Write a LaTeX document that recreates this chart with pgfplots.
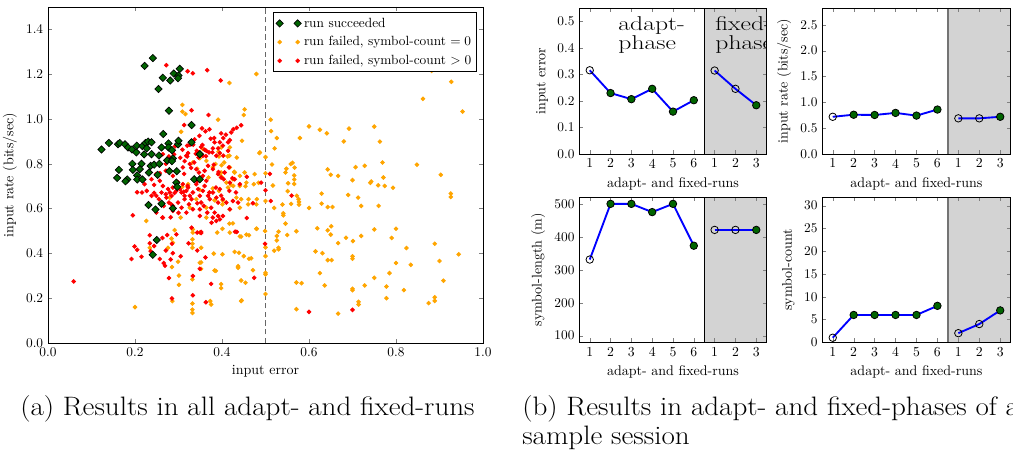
\documentclass[border=0pt]{standalone}
\usepackage{graphicx}
\usepackage{pgfplots}
\usepackage{pgfplotstable}
\pgfplotsset{compat=1.18}
\definecolor{mplgreen}{RGB}{0,100,0}
\definecolor{mplorange}{RGB}{255,165,0}
\definecolor{mplred}{RGB}{255,0,0}
\definecolor{mplgray}{RGB}{211,211,211}
\definecolor{mplblue}{RGB}{0,0,255}

\pgfplotstableread{
x y
0.123 0.864
0.140 0.893
0.161 0.887
0.165 0.893
0.177 0.887
0.184 0.873
0.193 0.864
0.203 0.851
0.204 0.881
0.217 0.879
0.224 0.893
0.230 0.899
0.238 0.896
0.227 0.869
0.221 0.842
0.238 0.843
0.255 0.837
0.265 0.933
0.261 0.873
0.277 0.891
0.277 0.873
0.287 0.824
0.274 0.815
0.299 0.887
0.300 0.903
0.330 0.896
0.349 0.843
0.330 0.973
0.278 1.037
0.254 1.134
0.264 1.184
0.281 1.172
0.289 1.203
0.300 1.194
0.299 1.182
0.303 1.224
0.222 1.237
0.241 1.272
0.194 0.800
0.215 0.800
0.163 0.773
0.195 0.773
0.211 0.776
0.236 0.791
0.244 0.796
0.256 0.800
0.205 0.748
0.205 0.730
0.182 0.730
0.159 0.737
0.178 0.722
0.217 0.730
0.232 0.761
0.252 0.751
0.279 0.767
0.285 0.812
0.296 0.767
0.295 0.716
0.297 0.697
0.336 0.731
0.349 0.731
0.231 0.616
0.247 0.596
0.261 0.622
0.287 0.601
0.250 0.460
0.241 0.394
0.285 0.861
}\greendata

\pgfplotstableread{
x y
0.882 1.215
0.927 1.166
0.862 1.090
0.953 1.033
0.512 0.997
0.513 0.946
0.526 0.915
0.600 0.967
0.625 0.952
0.641 0.936
0.692 0.957
0.750 0.966
0.763 0.899
0.680 0.900
0.579 0.915
0.521 0.869
0.500 0.830
0.515 0.797
0.562 0.804
0.558 0.799
0.548 0.778
0.567 0.783
0.546 0.761
0.566 0.748
0.566 0.730
0.566 0.710
0.552 0.713
0.517 0.703
0.500 0.758
0.643 0.775
0.650 0.751
0.667 0.746
0.707 0.785
0.728 0.791
0.769 0.806
0.848 0.796
0.700 0.727
0.743 0.721
0.741 0.715
0.759 0.704
0.774 0.701
0.771 0.739
0.793 0.693
0.903 0.751
0.629 0.667
0.690 0.661
0.713 0.649
0.551 0.678
0.572 0.657
0.926 0.667
0.926 0.652
0.487 0.851
0.500 0.634
0.520 0.603
0.539 0.618
0.541 0.579
0.541 0.570
0.559 0.621
0.576 0.642
0.577 0.630
0.577 0.618
0.600 0.603
0.629 0.622
0.643 0.607
0.654 0.607
0.720 0.612
0.760 0.612
0.546 0.533
0.571 0.499
0.499 0.500
0.530 0.497
0.526 0.478
0.526 0.458
0.550 0.482
0.619 0.512
0.643 0.503
0.651 0.521
0.650 0.484
0.685 0.470
0.720 0.478
0.701 0.455
0.750 0.507
0.800 0.510
0.790 0.469
0.667 0.446
0.500 0.427
0.520 0.412
0.530 0.418
0.530 0.425
0.500 0.388
0.615 0.409
0.631 0.401
0.643 0.370
0.652 0.370
0.700 0.387
0.700 0.376
0.800 0.357
0.824 0.424
0.889 0.443
0.944 0.396
0.900 0.366
0.834 0.349
0.500 0.313
0.500 0.306
0.571 0.270
0.583 0.267
0.625 0.312
0.636 0.257
0.700 0.242
0.700 0.236
0.728 0.257
0.750 0.291
0.778 0.252
0.785 0.312
0.818 0.236
0.778 0.200
0.714 0.184
0.714 0.172
0.909 0.278
0.875 0.178
0.889 0.204
0.889 0.188
0.500 0.219
0.571 0.151
0.667 0.131
0.309 1.063
0.309 1.033
0.316 1.022
0.452 1.043
0.450 1.018
0.479 1.201
0.417 1.161
0.391 0.997
0.306 0.943
0.446 0.903
0.486 0.848
0.398 0.873
0.418 0.873
0.417 0.836
0.393 0.833
0.385 0.799
0.405 0.806
0.418 0.784
0.434 0.828
0.429 0.761
0.475 0.754
0.473 0.709
0.333 0.806
0.349 0.836
0.356 0.866
0.364 0.813
0.379 0.784
0.398 0.761
0.410 0.716
0.426 0.701
0.441 0.701
0.456 0.716
0.379 0.690
0.393 0.679
0.414 0.694
0.433 0.649
0.444 0.642
0.461 0.642
0.480 0.642
0.460 0.619
0.479 0.619
0.441 0.604
0.418 0.597
0.401 0.619
0.364 0.604
0.305 0.560
0.280 0.649
0.364 0.560
0.417 0.533
0.425 0.534
0.441 0.476
0.456 0.484
0.479 0.510
0.401 0.510
0.418 0.493
0.389 0.493
0.333 0.507
0.333 0.493
0.349 0.493
0.332 0.463
0.332 0.443
0.332 0.425
0.291 0.504
0.284 0.466
0.287 0.448
0.276 0.425
0.226 0.545
0.234 0.425
0.352 0.425
0.349 0.358
0.352 0.331
0.352 0.360
0.299 0.363
0.285 0.339
0.301 0.301
0.301 0.260
0.332 0.284
0.332 0.176
0.332 0.149
0.332 0.134
0.286 0.187
0.200 0.160
0.373 0.187
0.375 0.172
0.383 0.324
0.386 0.322
0.398 0.263
0.398 0.245
0.401 0.396
0.429 0.407
0.439 0.403
0.450 0.388
0.462 0.376
0.467 0.378
0.437 0.343
0.437 0.336
0.444 0.279
0.454 0.269
0.471 0.325
0.444 0.187
0.445 0.190
0.381 0.399
0.309 0.697
0.322 0.709
0.349 0.684
0.341 0.642
0.326 0.604
0.383 0.637
0.402 0.636
0.395 0.754
0.369 0.739
0.352 0.739
0.425 0.731
0.452 0.761
0.441 0.746
0.392 0.854
0.413 0.833
0.399 0.794
0.428 0.764
0.400 0.740
0.421 0.706
0.454 0.700
0.484 0.715
0.343 0.778
0.349 0.825
0.462 0.481
0.444 0.475
0.480 0.510
}\orangedata

\pgfplotstableread{
x y
0.059 0.275
0.272 1.240
0.321 1.213
0.333 1.204
0.366 1.218
0.397 1.172
0.330 1.039
0.369 1.018
0.313 0.973
0.354 0.958
0.371 0.954
0.382 0.915
0.426 0.954
0.434 0.961
0.444 0.972
0.421 0.940
0.398 0.936
0.409 0.930
0.403 0.915
0.418 0.906
0.374 0.912
0.362 0.945
0.348 0.925
0.337 0.909
0.334 0.885
0.355 0.884
0.320 0.881
0.292 0.878
0.264 0.843
0.278 0.833
0.271 0.800
0.290 0.842
0.304 0.827
0.314 0.812
0.320 0.833
0.340 0.845
0.363 0.834
0.378 0.851
0.360 0.863
0.336 0.806
0.381 0.796
0.392 0.763
0.404 0.731
0.424 0.736
0.457 0.742
0.490 0.716
0.329 0.782
0.313 0.755
0.287 0.746
0.271 0.769
0.257 0.758
0.298 0.719
0.264 0.701
0.244 0.706
0.227 0.679
0.205 0.673
0.216 0.672
0.244 0.670
0.271 0.664
0.291 0.670
0.312 0.675
0.321 0.701
0.344 0.724
0.360 0.701
0.371 0.672
0.386 0.694
0.398 0.658
0.417 0.679
0.432 0.672
0.326 0.885
0.342 0.858
0.347 0.851
0.352 0.875
0.364 0.858
0.346 0.828
0.356 0.836
0.318 0.836
0.309 0.863
0.322 0.848
0.379 0.869
0.391 0.869
0.402 0.881
0.414 0.896
0.395 0.896
0.383 0.896
0.370 0.851
0.387 0.836
0.395 0.848
0.403 0.836
0.414 0.858
0.257 0.724
0.276 0.687
0.280 0.672
0.284 0.657
0.287 0.694
0.295 0.679
0.303 0.687
0.307 0.672
0.310 0.709
0.314 0.657
0.318 0.679
0.322 0.694
0.326 0.657
0.330 0.642
0.333 0.672
0.341 0.709
0.345 0.687
0.349 0.657
0.352 0.627
0.356 0.679
0.364 0.724
0.368 0.657
0.372 0.642
0.379 0.672
0.387 0.649
0.391 0.627
0.395 0.687
0.402 0.642
0.410 0.627
0.418 0.597
0.425 0.634
0.437 0.627
0.429 0.731
0.418 0.716
0.441 0.709
0.471 0.624
0.249 0.657
0.255 0.642
0.261 0.672
0.266 0.612
0.272 0.649
0.278 0.627
0.287 0.612
0.299 0.627
0.307 0.604
0.314 0.642
0.324 0.619
0.333 0.597
0.343 0.624
0.349 0.597
0.358 0.612
0.366 0.582
0.375 0.604
0.383 0.582
0.391 0.567
0.395 0.552
0.379 0.560
0.349 0.567
0.318 0.582
0.287 0.590
0.264 0.560
0.249 0.582
0.238 0.657
0.222 0.709
0.238 0.731
0.249 0.754
0.310 0.784
0.326 0.799
0.341 0.776
0.347 0.761
0.356 0.746
0.360 0.769
0.368 0.791
0.379 0.776
0.391 0.754
0.398 0.739
0.406 0.761
0.416 0.784
0.430 0.497
0.402 0.567
0.387 0.545
0.376 0.537
0.352 0.496
0.343 0.493
0.330 0.515
0.195 0.570
0.199 0.431
0.205 0.416
0.192 0.375
0.215 0.385
0.234 0.481
0.234 0.445
0.236 0.410
0.244 0.433
0.263 0.469
0.257 0.375
0.266 0.357
0.269 0.345
0.271 0.413
0.274 0.482
0.278 0.290
0.282 0.373
0.285 0.443
0.287 0.401
0.295 0.485
0.305 0.387
0.285 0.199
0.323 0.445
0.343 0.413
0.352 0.491
0.333 0.299
0.333 0.213
0.349 0.331
0.362 0.382
0.375 0.264
0.363 0.182
0.434 0.496
0.457 0.558
0.474 0.291
0.263 0.560
0.282 0.561
0.300 0.581
0.284 0.618
0.510 0.755
0.500 0.682
0.560 0.658
0.512 0.634
0.499 0.443
0.600 0.139
0.700 0.148
}\reddata

\tikzset{bigtxt/.style={anchor=base west, inner sep=0pt, font=\fontsize{15}{15}\selectfont}}
\pgfplotsset{
  every tick label/.append style={font=\fontsize{10.3}{12}\selectfont},
  every axis label/.append style={font=\fontsize{10.5}{12}\selectfont},
  twomarks/.style={legend image code/.code={\draw[##1] plot coordinates {(0pt,0pt)(13.5pt,0pt)};}},
  panel/.style={
    scale only axis, anchor=south west,
    width=140.5pt, height=109.3pt,
    xmin=0.5, xmax=9.5,
    xtick={1,2,3,4,5,6,7,8,9},
    xticklabels={1,2,3,4,5,6,1,2,3},
    xlabel={adapt- and fixed-runs},
    tick align=inside, major tick length=3pt,
    axis on top, line width=0.6pt,
  },
  openmk/.style={only marks, mark=o, mark size=2.8pt, mark options={draw=black, fill=none, line width=0.6pt}},
  fillmk/.style={only marks, mark=*, mark size=2.8pt, mark options={draw=black, fill=mplgreen, line width=0.6pt}},
  bluel/.style={mplblue, line width=1.4pt, no marks},
}

\begin{document}
\begin{tikzpicture}
\path[use as bounding box] (0,0) rectangle (759.75pt,340.5pt);

% ---------- (a) scatter ----------
\begin{axis}[
  at={(36pt,83.25pt)}, anchor=south west, scale only axis,
  width=326.25pt, height=252pt,
  xmin=0, xmax=1, ymin=0, ymax=1.5,
  xtick={0,0.2,0.4,0.6,0.8,1.0}, ytick={0,0.2,0.4,0.6,0.8,1.0,1.2,1.4},
  xticklabel style={/pgf/number format/.cd, fixed, fixed zerofill, precision=1},
  yticklabel style={/pgf/number format/.cd, fixed, fixed zerofill, precision=1},
  xlabel={input error}, ylabel={input rate (bits/sec)},
  tick align=inside, major tick length=3pt, line width=0.6pt,
  legend style={at={(0.986,0.985)}, anchor=north east, draw=black, fill=white,
    font=\fontsize{10}{12}\selectfont, row sep=1.5pt, inner sep=2pt, line width=0.6pt},
  legend cell align=left,
]
\addlegendimage{only marks, mark=square*, mark size=1.95pt, mark options={rotate=45, fill=mplgreen, draw=black, line width=0.5pt}, twomarks}
\addlegendentry{run succeeded}
\addlegendimage{only marks, mark=*, mark size=1.4pt, mark options={fill=mplorange, draw=mplorange}, twomarks}
\addlegendentry{run failed, symbol-count $=0$}
\addlegendimage{only marks, mark=*, mark size=1.4pt, mark options={fill=mplred, draw=mplred}, twomarks}
\addlegendentry{run failed, symbol-count $>0$}

\addplot[forget plot, black!60, line width=0.9pt, dash pattern=on 4pt off 2.5pt] coordinates {(0.5,0) (0.5,1.5)};
\addplot[forget plot, only marks, mark=*, mark size=1.4pt, mark options={fill=mplorange, draw=mplorange}] table {\orangedata};
\addplot[forget plot, only marks, mark=*, mark size=1.4pt, mark options={fill=mplred, draw=mplred}] table {\reddata};
\addplot[forget plot, only marks, mark=square*, mark size=1.95pt, mark options={rotate=45, fill=mplgreen, draw=black, line width=0.5pt}] table {\greendata};
\end{axis}

% ---------- (b) top-left: input error ----------
\begin{axis}[panel, at={(434.5pt,225pt)},
  ymin=0, ymax=0.55, ytick={0,0.1,0.2,0.3,0.4,0.5},
  yticklabel style={/pgf/number format/.cd, fixed, fixed zerofill, precision=1},
  ylabel={input error}]
\addplot[fill=mplgray, draw=none] coordinates {(6.5,0) (9.5,0) (9.5,0.55) (6.5,0.55)} -- cycle;
\addplot[black, line width=0.6pt] coordinates {(6.5,0) (6.5,0.55)};
\addplot[bluel] coordinates {(1,0.316) (2,0.230) (3,0.207) (4,0.246) (5,0.160) (6,0.203)};
\addplot[bluel] coordinates {(7,0.315) (8,0.246) (9,0.184)};
\addplot[openmk] coordinates {(1,0.316) (7,0.315) (8,0.246)};
\addplot[fillmk] coordinates {(2,0.230) (3,0.207) (4,0.246) (5,0.160) (6,0.203) (9,0.184)};
\node[bigtxt] at (axis cs:2.36,0.468) {\scalebox{1.28}[1]{adapt-}};
\node[bigtxt] at (axis cs:2.36,0.3926) {\scalebox{1.28}[1]{phase}};
\node[bigtxt] at (axis cs:7.02,0.468) {\scalebox{1.28}[1]{fixed-}};
\node[bigtxt] at (axis cs:7.02,0.3926) {\scalebox{1.28}[1]{phase}};
\end{axis}

% ---------- (b) top-right: input rate ----------
\begin{axis}[panel, at={(616.7pt,225pt)}, width=141.3pt,
  ymin=0, ymax=2.82, ytick={0,0.5,1.0,1.5,2.0,2.5},
  yticklabel style={/pgf/number format/.cd, fixed, fixed zerofill, precision=1},
  ylabel={input rate (bits/sec)}]
\addplot[fill=mplgray, draw=none] coordinates {(6.5,0) (9.5,0) (9.5,2.82) (6.5,2.82)} -- cycle;
\addplot[black!55, line width=1.3pt] coordinates {(6.5,0) (6.5,2.82)};
\addplot[bluel] coordinates {(1,0.72) (2,0.76) (3,0.755) (4,0.795) (5,0.743) (6,0.86)};
\addplot[bluel] coordinates {(7,0.69) (8,0.69) (9,0.72)};
\addplot[openmk] coordinates {(1,0.72) (7,0.69) (8,0.69)};
\addplot[fillmk] coordinates {(2,0.76) (3,0.755) (4,0.795) (5,0.743) (6,0.86) (9,0.72)};
\end{axis}

% ---------- (b) bottom-left: symbol-length ----------
\begin{axis}[panel, at={(434.5pt,83.8pt)}, height=108.75pt,
  ymin=80, ymax=520, ytick={100,200,300,400,500},
  ylabel={symbol-length (m)}]
\addplot[fill=mplgray, draw=none] coordinates {(6.5,80) (9.5,80) (9.5,520) (6.5,520)} -- cycle;
\addplot[black, line width=0.6pt] coordinates {(6.5,80) (6.5,520)};
\addplot[bluel] coordinates {(1,331) (2,500) (3,500) (4,475) (5,500) (6,373)};
\addplot[bluel] coordinates {(7,421) (8,421) (9,421)};
\addplot[openmk] coordinates {(1,331) (7,421) (8,421)};
\addplot[fillmk] coordinates {(2,500) (3,500) (4,475) (5,500) (6,373) (9,421)};
\end{axis}

% ---------- (b) bottom-right: symbol-count ----------
\begin{axis}[panel, at={(616.7pt,83.8pt)}, width=141.3pt, height=108.75pt,
  ymin=0, ymax=31.85, ytick={0,5,10,15,20,25,30},
  ylabel={symbol-count}]
\addplot[fill=mplgray, draw=none] coordinates {(6.5,0) (9.5,0) (9.5,31.85) (6.5,31.85)} -- cycle;
\addplot[black!55, line width=1.3pt] coordinates {(6.5,0) (6.5,31.85)};
\addplot[bluel] coordinates {(1,1) (2,6) (3,6) (4,6) (5,6) (6,8)};
\addplot[bluel] coordinates {(7,2) (8,4) (9,7)};
\addplot[openmk] coordinates {(1,1) (7,2) (8,4)};
\addplot[fillmk] coordinates {(2,6) (3,6) (4,6) (5,6) (6,8) (9,7)};
\end{axis}

% ---------- captions ----------
\node[anchor=base west, inner sep=0pt, font=\fontsize{20}{24}\selectfont] at (15pt,29.25pt) {\scalebox{1.09}[1]{(a) Results in all adapt- and fixed-runs}};
\node[anchor=base west, inner sep=0pt, font=\fontsize{20}{24}\selectfont] at (391.5pt,29.25pt) {\scalebox{1.09}[1]{(b) Results in adapt- and fixed-phases of a}};
\node[anchor=base west, inner sep=0pt, font=\fontsize{20}{24}\selectfont] at (391.5pt,7.5pt) {\scalebox{1.09}[1]{sample session}};
\end{tikzpicture}
\end{document}
